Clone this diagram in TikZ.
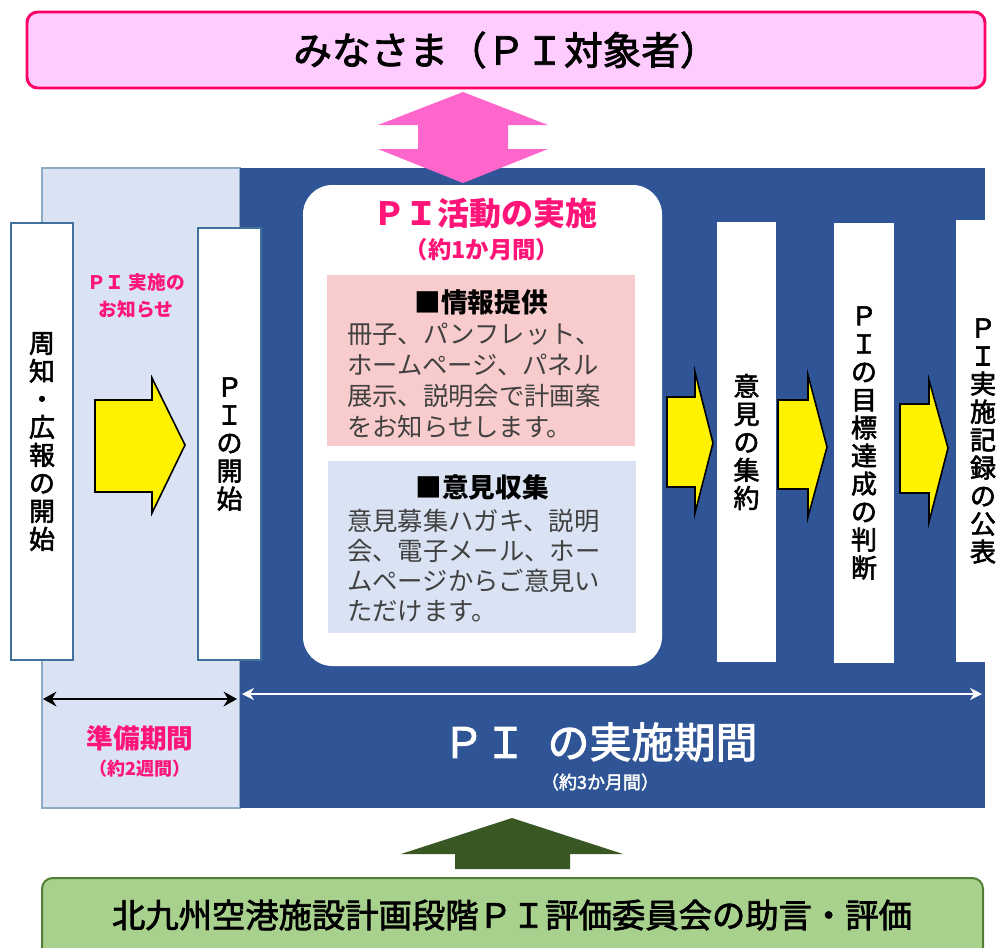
\documentclass[tikz,border=0pt]{standalone}
\usepackage{fontspec}
\setmainfont{Noto Sans CJK JP}
\newfontfamily\medfont{Noto Sans CJK JP}[FakeBold=2.2]
\usetikzlibrary{arrows.meta}
\newcommand\myfs[2]{\fontsize{#1}{#2}\selectfont}
\definecolor{pinkT}{RGB}{255,20,120}
\definecolor{topfill}{RGB}{255,204,255}
\definecolor{topdraw}{RGB}{255,0,102}
\definecolor{pinkarrow}{RGB}{255,102,204}
\definecolor{darkblue}{RGB}{47,85,151}
\definecolor{lightblue}{RGB}{218,227,243}
\definecolor{boxline}{RGB}{65,113,156}
\definecolor{infopink}{RGB}{248,204,204}
\definecolor{txtgray}{RGB}{64,64,64}
\definecolor{greenarrow}{RGB}{56,87,35}
\definecolor{greenfill}{RGB}{169,209,142}
\definecolor{greendraw}{RGB}{80,126,50}
\tikzset{
  wbox/.style={rectangle, fill=white, draw=boxline, line width=1.2pt, inner sep=0pt, align=center, font=\medfont\myfs{19.5pt}{21pt}},
  yarrow/.style={fill=yellow, draw=black, line width=1.2pt, line join=miter},
  ptxt/.style={text=pinkT, font=\bfseries, align=center, inner sep=0pt},
  bodytxt/.style={text=txtgray, align=left, inner sep=0pt, anchor=west},
}
\begin{document}
\begin{tikzpicture}[x=0.75pt,y=-0.75pt]
\useasboundingbox (0,0) rectangle (1006,947);
% top box
\node[rectangle, rounded corners=8pt, fill=topfill, draw=topdraw, line width=2.2pt, minimum width=718.5pt, minimum height=57pt, font=\medfont\myfs{29pt}{32pt}] (top) at (506,50) {みなさま（ＰＩ対象者）};
% panels
\node[rectangle, fill=lightblue, draw=boxline!60, line width=0.8pt, minimum width=148.5pt, minimum height=480pt, inner sep=0pt] (prep) at (141,488) {};
\node[rectangle, fill=darkblue, minimum width=558.75pt, minimum height=480pt, inner sep=0pt] (impl) at (612.5,488) {};
% pink double arrow
\fill[pinkarrow] (463,92) -- (548,125) -- (508,125) -- (508,149) -- (548,149) -- (463,183) -- (378,149) -- (418,149) -- (418,125) -- (378,125) -- cycle;
% white rounded box
\node[rectangle, rounded corners=22pt, fill=white, minimum width=269.25pt, minimum height=360.75pt, inner sep=0pt] (act) at (482.5,425.5) {};
\node[ptxt, font=\bfseries\myfs{24pt}{26pt}] (acttitle) at (485,213) {ＰＩ活動の実施};
\node[ptxt, font=\bfseries\myfs{17.5pt}{20pt}] (actdur) at (482,250) {（約1か月間）};
\node[rectangle, fill=infopink, minimum width=231pt, minimum height=128.25pt, inner sep=0pt] (info) at (481,360.5) {};
\node[rectangle, fill=lightblue, minimum width=231pt, minimum height=129pt, inner sep=0pt] (opin) at (482,547) {};
\node[inner sep=0pt, font=\bfseries\myfs{20pt}{22pt}] (infot) at (481,302) {■情報提供};
\node[bodytxt, font=\myfs{19pt}{23.25pt}] (infob) at (347,381) {冊子、パンフレット、\\ホームページ、パネル\\展示、説明会で計画案\\をお知らせします。};
\node[inner sep=0pt, font=\bfseries\myfs{20pt}{22pt}] (opint) at (482,487) {■意見収集};
\node[bodytxt, font=\myfs{19pt}{22.5pt}] (opinb) at (347,566) {意見募集ハガキ、説明\\会、電子メール、ホー\\ムページからご意見い\\ただけます。};
% vertical boxes
\node[wbox, minimum width=46.5pt, minimum height=327.75pt] (s1) at (42,441.5) {周\\知\\・\\広\\報\\の\\開\\始};
\node[wbox, minimum width=47.25pt, minimum height=324pt] (s2) at (229.5,444) {Ｐ\\Ｉ\\の\\開\\始};
\node[wbox, draw=none, minimum width=44.25pt, minimum height=330pt] (s3) at (746.5,442) {意\\見\\の\\集\\約};
\node[wbox, draw=none, minimum width=45pt, minimum height=330pt] (s4) at (864,443) {Ｐ\\Ｉ\\の\\目\\標\\達\\成\\の\\判\\断};
\node[wbox, draw=none, minimum width=40.5pt, minimum height=331.5pt] (s5) at (983,441) {Ｐ\\Ｉ\\実\\施\\記\\録\\の\\公\\表};
\node[ptxt, font=\bfseries\myfs{14pt}{20pt}] (notice) at (136,296) {ＰＩ 実施の\\お知らせ};
% yellow block arrows
\draw[yarrow] (95,400) -- (152,400) -- (152,378) -- (185,445) -- (152,513) -- (152,492) -- (95,492) -- cycle;
\draw[yarrow] (667,397) -- (695,397) -- (695,372) -- (713,443) -- (695,513) -- (695,487) -- (667,487) -- cycle;
\draw[yarrow] (778,400) -- (808,400) -- (808,375) -- (827,447) -- (808,517) -- (808,489) -- (778,489) -- cycle;
\draw[yarrow] (900,404) -- (929,404) -- (929,380) -- (948,448) -- (929,522) -- (929,493) -- (900,493) -- cycle;
% period arrows
\coordinate (pa) at (43,699);
\coordinate (pb) at (237,699);
\coordinate (qa) at (242,694);
\coordinate (qb) at (982,694);
\draw[line width=2.2pt, {Stealth[length=10pt,width=11pt]}-{Stealth[length=10pt,width=11pt]}] (pa) -- (pb);
\draw[white, line width=1.3pt, {Stealth[length=9pt,width=9pt]}-{Stealth[length=9pt,width=9pt]}] (qa) -- (qb);
\node[ptxt, font=\bfseries\myfs{20pt}{22pt}] (prept) at (140,738) {準備期間};
\node[ptxt, font=\bfseries\myfs{13.5pt}{15pt}] (prepd) at (140,769) {（約2週間）};
\node[text=white, inner sep=0pt, font=\medfont\myfs{31.5pt}{33pt}] (implt) at (600,742) {ＰＩ\hspace{0.5em}の実施期間};
\node[text=white, inner sep=0pt, font=\medfont\myfs{13.5pt}{15pt}] (impld) at (600,782) {（約3か月間）};
% green arrow
\fill[greenarrow] (512,818) -- (623,854) -- (570,854) -- (570,869) -- (455,869) -- (455,854) -- (401,854) -- cycle;
% green box
\node[rectangle, rounded corners=8pt, fill=greenfill, draw=greendraw, line width=1.5pt, minimum width=705.75pt, minimum height=61.5pt, inner sep=0pt] (eval) at (512.5,919) {};
\node[inner sep=0pt, font=\medfont\myfs{25pt}{27pt}] (evalt) at (512,915) {北九州空港施設計画段階ＰＩ評価委員会の助言・評価};
\end{tikzpicture}
\end{document}
